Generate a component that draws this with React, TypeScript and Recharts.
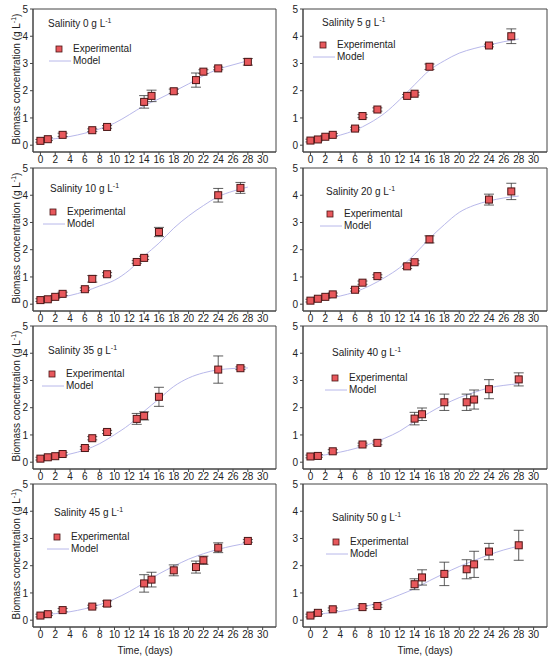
// Biomass growth at eight salinities — experimental points with error bars vs. logistic model.
import React from "react";
import { ComposedChart, XAxis, YAxis, Line, Scatter, ErrorBar, ReferenceArea } from "recharts";

const xTicks = [0, 2, 4, 6, 8, 10, 12, 14, 16, 18, 20, 22, 24, 26, 28, 30];
const yTicks = [0, 1, 2, 3, 4, 5];
const modelDays = [0, 2, 4, 6, 8, 10, 12, 14, 16, 18, 20, 22, 24, 26, 28];

// 0 g/L
const days0 = [0, 1, 3, 7, 9, 14, 15, 18, 21, 22, 24, 28];
const exp0 = [0.16, 0.22, 0.38, 0.55, 0.67, 1.59, 1.81, 1.98, 2.39, 2.7, 2.82, 3.06];
const err0 = [0.05, 0.05, 0.06, 0.05, 0.05, 0.23, 0.21, 0.08, 0.26, 0.07, 0.05, 0.12];
const model0 = [0.17, 0.24, 0.32, 0.44, 0.6, 0.81, 1.12, 1.45, 1.7, 1.97, 2.25, 2.55, 2.79, 2.95, 3.1];

// 5 g/L
const days5 = [0, 1, 2, 3, 6, 7, 9, 13, 14, 16, 24, 27];
const exp5 = [0.17, 0.21, 0.31, 0.38, 0.61, 1.07, 1.31, 1.81, 1.89, 2.88, 3.66, 4.0];
const err5 = [0.05, 0.05, 0.05, 0.05, 0.05, 0.06, 0.06, 0.05, 0.05, 0.1, 0.05, 0.27];
const model5 = [0.17, 0.25, 0.37, 0.55, 0.82, 1.18, 1.67, 2.22, 2.75, 3.1, 3.38, 3.55, 3.68, 3.8, 3.9];

// 10 g/L
const days10 = [0, 1, 2, 3, 6, 7, 9, 13, 14, 16, 24, 27];
const exp10 = [0.15, 0.18, 0.27, 0.38, 0.55, 0.93, 1.1, 1.55, 1.7, 2.65, 4.0, 4.27];
const err10 = [0.05, 0.05, 0.05, 0.06, 0.05, 0.12, 0.06, 0.05, 0.06, 0.17, 0.25, 0.2];
const model10 = [0.15, 0.22, 0.32, 0.47, 0.67, 0.88, 1.25, 1.77, 2.24, 2.79, 3.24, 3.62, 3.95, 4.15, 4.3];

// 20 g/L
const days20 = [0, 1, 2, 3, 6, 7, 9, 13, 14, 16, 24, 27];
const exp20 = [0.13, 0.2, 0.27, 0.36, 0.53, 0.79, 1.03, 1.39, 1.54, 2.38, 3.84, 4.14];
const err20 = [0.05, 0.05, 0.05, 0.05, 0.05, 0.06, 0.05, 0.08, 0.06, 0.13, 0.2, 0.3];
const model20 = [0.12, 0.2, 0.3, 0.45, 0.68, 0.98, 1.34, 1.83, 2.41, 2.92, 3.37, 3.63, 3.79, 3.9, 3.97];

// 35 g/L
const days35 = [0, 1, 2, 3, 6, 7, 9, 13, 14, 16, 24, 27];
const exp35 = [0.13, 0.18, 0.22, 0.3, 0.52, 0.88, 1.11, 1.59, 1.7, 2.4, 3.4, 3.45];
const err35 = [0.05, 0.05, 0.05, 0.06, 0.05, 0.06, 0.06, 0.2, 0.15, 0.35, 0.5, 0.05];
const model35 = [0.13, 0.2, 0.3, 0.45, 0.68, 1.01, 1.38, 1.87, 2.32, 2.78, 3.09, 3.28, 3.39, 3.44, 3.46];

// 40 g/L
const days40 = [0, 1, 3, 7, 9, 14, 15, 18, 21, 22, 24, 28];
const exp40 = [0.21, 0.23, 0.4, 0.65, 0.71, 1.6, 1.76, 2.2, 2.2, 2.3, 2.68, 3.04];
const err40 = [0.05, 0.05, 0.06, 0.05, 0.07, 0.23, 0.23, 0.3, 0.3, 0.35, 0.35, 0.24];
const model40 = [0.2, 0.27, 0.37, 0.5, 0.67, 0.88, 1.14, 1.5, 1.82, 2.12, 2.37, 2.56, 2.73, 2.82, 2.88];

// 45 g/L
const days45 = [0, 1, 3, 7, 9, 14, 15, 18, 21, 22, 24, 28];
const exp45 = [0.17, 0.22, 0.37, 0.5, 0.61, 1.35, 1.49, 1.83, 1.95, 2.2, 2.66, 2.91];
const err45 = [0.05, 0.05, 0.06, 0.05, 0.1, 0.32, 0.27, 0.2, 0.22, 0.15, 0.18, 0.05];
const model45 = [0.18, 0.24, 0.31, 0.42, 0.57, 0.78, 1.05, 1.37, 1.7, 1.98, 2.24, 2.44, 2.6, 2.73, 2.83];

// 50 g/L
const days50 = [0, 1, 3, 7, 9, 14, 15, 18, 21, 22, 24, 28];
const exp50 = [0.17, 0.27, 0.4, 0.48, 0.52, 1.32, 1.57, 1.7, 1.87, 2.05, 2.52, 2.75];
const err50 = [0.05, 0.05, 0.05, 0.05, 0.05, 0.2, 0.28, 0.43, 0.35, 0.48, 0.3, 0.55];
const model50 = [0.18, 0.25, 0.32, 0.42, 0.55, 0.72, 0.93, 1.16, 1.45, 1.72, 1.97, 2.19, 2.4, 2.58, 2.72];

const salinities = ["0", "5", "10", "20", "35", "40", "45", "50"];
const panels = [
  { days: days0, exp: exp0, err: err0, model: model0 },
  { days: days5, exp: exp5, err: err5, model: model5 },
  { days: days10, exp: exp10, err: err10, model: model10 },
  { days: days20, exp: exp20, err: err20, model: model20 },
  { days: days35, exp: exp35, err: err35, model: model35 },
  { days: days40, exp: exp40, err: err40, model: model40 },
  { days: days45, exp: exp45, err: err45, model: model45 },
  { days: days50, exp: exp50, err: err50, model: model50 },
];

// layout: title / legend offsets from the plot's top-left corner
const spots = [
  { tx: 15, ty: 15, lx: 26, ly: 40 },
  { tx: 19, ty: 14, lx: 20, ly: 36 },
  { tx: 17, ty: 21, lx: 20, ly: 44 },
  { tx: 23, ty: 24, lx: 27, ly: 46 },
  { tx: 15, ty: 25, lx: 19, ly: 48 },
  { tx: 29, ty: 27, lx: 32, ly: 52 },
  { tx: 21, ty: 29, lx: 24, ly: 53 },
  { tx: 29, ty: 34, lx: 33, ly: 58 },
];

const FONT = "Arial, 'Liberation Sans', Helvetica, sans-serif";
const X_DOMAIN: [number, number] = [-1, 31.8];
const Y_DOMAIN: [number, number] = [-0.25, 5];
const PLOT_TOPS = [9, 168, 326, 484];
const PLOT_H = 143;
const PLOT_X = 33;
const MARK_FILL = "#e8585c";
const MARK_STROKE = "#4a1515";
const MODEL = "#b8b8ea";
const AXIS = "#444";
const TEXT = "#222";

const Sup = () => (
  <span style={{ fontSize: 7, position: "relative", top: -4 }}>-1</span>
);

function SquareDot(props: any) {
  const { cx, cy } = props;
  if (cx == null || cy == null) return null;
  return <rect x={cx - 3.5} y={cy - 3.5} width={7} height={7} fill={MARK_FILL} stroke={MARK_STROKE} strokeWidth={1} />;
}

function Panel({ idx }: { idx: number }) {
  const p = panels[idx];
  const s = spots[idx];
  const col = idx % 2;
  const row = Math.floor(idx / 2);
  const left = col === 0 ? 0 : 270;
  const top = PLOT_TOPS[row] - 9;
  const exp = p.days.map((t, i) => ({ t, v: p.exp[i], e: p.err[i] }));
  const model = modelDays.map((t, i) => ({ t, v: p.model[i] }));
  const txt = { position: "absolute" as const, fontSize: 10, lineHeight: "12px", color: TEXT, whiteSpace: "nowrap" as const };

  return (
    <div style={{ position: "absolute", left, top, width: 280, height: 175, fontFamily: FONT }}>
      <ComposedChart width={280} height={175} margin={{ top: 9, right: col === 0 ? 4 : 3, bottom: 5, left: 8 }}>
        <XAxis
          dataKey="t"
          type="number"
          domain={X_DOMAIN}
          ticks={xTicks}
          interval={0}
          allowDataOverflow
          height={18}
          stroke={AXIS}
          tickSize={3}
          tickMargin={1}
          tick={{ fontSize: 10, fill: TEXT, fontFamily: FONT }}
        />
        <YAxis
          type="number"
          domain={Y_DOMAIN}
          ticks={yTicks}
          interval={0}
          allowDataOverflow
          width={25}
          stroke={AXIS}
          tickSize={3}
          tickMargin={2}
          tick={{ fontSize: 10, fill: TEXT, fontFamily: FONT }}
        />
        <ReferenceArea x1={X_DOMAIN[0]} x2={X_DOMAIN[1]} y1={Y_DOMAIN[0]} y2={Y_DOMAIN[1]} fill="none" stroke={AXIS} strokeWidth={1} ifOverflow="visible" />
        <Line data={model} dataKey="v" type="monotone" stroke={MODEL} strokeWidth={1} dot={false} isAnimationActive={false} />
        <Scatter data={exp} dataKey="v" shape={<SquareDot />} isAnimationActive={false}>
          <ErrorBar dataKey="e" direction="y" width={5} stroke="#333" strokeWidth={0.8} />
        </Scatter>
      </ComposedChart>

      <div style={{ ...txt, left: PLOT_X + s.tx, top: 9 + s.ty - 6 }}>
        Salinity {salinities[idx]} g L<Sup />
      </div>
      <svg style={{ position: "absolute", left: PLOT_X + s.lx - 12, top: 9 + s.ly - 5, overflow: "visible" }} width={26} height={24}>
        <rect x={9} y={2} width={6} height={6} fill={MARK_FILL} stroke={MARK_STROKE} strokeWidth={0.8} />
        <line x1={2} x2={24} y1={17} y2={17} stroke={MODEL} strokeWidth={1} />
      </svg>
      <div style={{ ...txt, left: PLOT_X + s.lx + 14, top: 9 + s.ly - 6 }}>Experimental</div>
      <div style={{ ...txt, left: PLOT_X + s.lx + 14, top: 9 + s.ly + 6 }}>Model</div>

      {col === 0 && (
        <div
          style={{
            ...txt,
            left: 16.5,
            top: 9 + PLOT_H / 2 - 2,
            transform: "translate(-50%, -50%) rotate(-90deg)",
          }}
        >
          Biomass concentration (g L<Sup />)
        </div>
      )}
      {row === 3 && (
        <div style={{ ...txt, left: col === 0 ? 145 : 155, top: 9 + PLOT_H + 24 - 6, transform: "translateX(-50%)" }}>
          Time, (days)
        </div>
      )}
    </div>
  );
}

export default function App() {
  return (
    <div style={{ position: "absolute", left: 0, top: 0, width: 550, height: 660, background: "#fff", overflow: "hidden" }}>
      {panels.map((_, i) => (
        <Panel key={i} idx={i} />
      ))}
    </div>
  );
}
